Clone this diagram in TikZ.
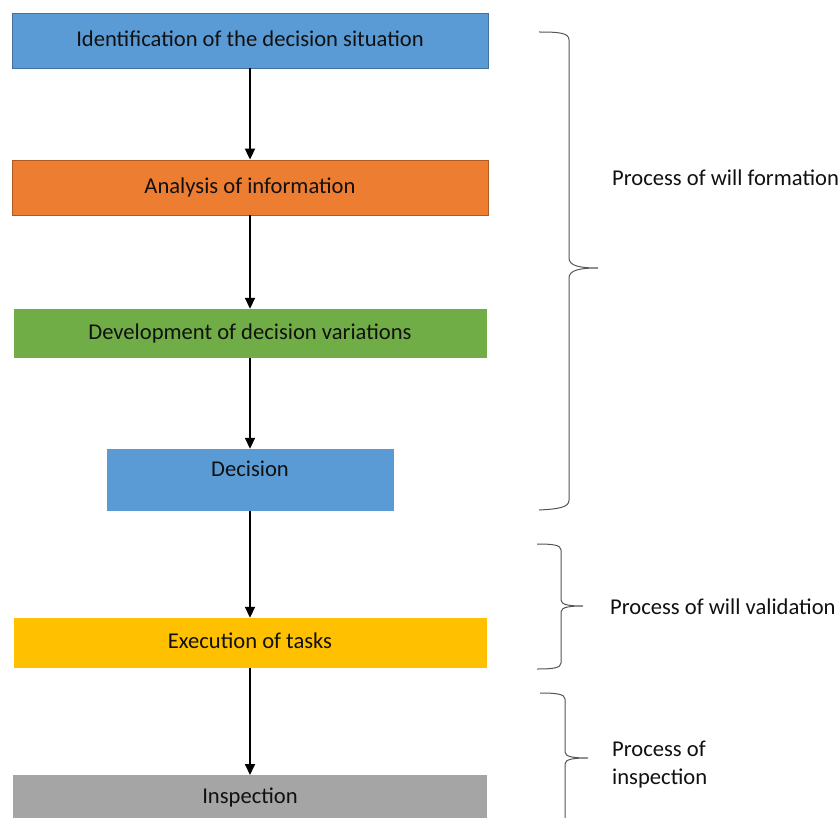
\documentclass[tikz,border=0pt]{standalone}
\usepackage{fontspec}
\setmainfont{Carlito}
\usetikzlibrary{arrows.meta}
\definecolor{cblue}{HTML}{5B9BD5}
\definecolor{cblueb}{HTML}{41719C}
\definecolor{corange}{HTML}{ED7D31}
\definecolor{corangeb}{HTML}{AE5A21}
\definecolor{cgreen}{HTML}{70AD47}
\definecolor{cyellow}{HTML}{FFC000}
\definecolor{cgray}{HTML}{A5A5A5}
\definecolor{ctext}{HTML}{111111}
\definecolor{cbrace}{HTML}{555555}
\begin{document}
\begin{tikzpicture}[x=1pt,y=-1pt,
  box/.style={rectangle, inner sep=0pt, font=\fontsize{22.6}{26}\selectfont, text=ctext, draw=none},
  conn/.style={line width=1.8pt, -{Triangle[width=10pt,length=11pt]}},
  brace/.style={draw=cbrace, line width=1pt},
  lbl/.style={anchor=west, font=\fontsize{22.6}{28}\selectfont, text=ctext, align=left, inner sep=0pt}
]
\useasboundingbox (0,0) rectangle (840,818);
\fill[white] (0,0) rectangle (840,818);

\node[box, fill=cblue, draw=cblueb, line width=0.8pt, minimum width=476pt, minimum height=55pt] (b1) at (250,40.5) {\raisebox{3pt}{Identification of the decision situation}};
\node[box, fill=corange, draw=corangeb, line width=0.8pt, minimum width=476pt, minimum height=55pt] (b2) at (250,187.5) {\raisebox{3pt}{Analysis of information}};
\node[box, fill=cgreen, minimum width=473pt, minimum height=49pt] (b3) at (250,333.5) {\raisebox{3pt}{Development of decision variations}};
\node[box, fill=cblue, minimum width=287pt, minimum height=62pt,
  label={[box, yshift=11pt]center:Decision}] (b4) at (250,480) {};
\node[box, fill=cyellow, minimum width=473pt, minimum height=50pt] (b5) at (250,643) {\raisebox{4pt}{Execution of tasks}};
\node[box, fill=cgray, minimum width=474pt, minimum height=50pt, anchor=north] (b6) at (250,775) {};
\node[box] (t6) at (250,797.5) {Inspection};

\draw[conn] (b1.south) -- (b2.north);
\draw[conn] (b2.south) -- (b3.north);
\draw[conn] (b3.south) -- (b4.north);
\draw[conn] (b4.south) -- (b5.north);
\draw[conn] (b5.south) -- (b6.north);

% brace 1
\coordinate (t1) at (598,268);
\draw[brace] (539,32) .. controls (560,32) and (569,33) .. (569,40)
  -- (569,258) .. controls (569,266) and (580,268) .. (t1)
  .. controls (580,268) and (569,270) .. (569,278)
  -- (569,500) .. controls (569,507) and (560,509) .. (539,510);
% brace 2
\coordinate (t2) at (583,606);
\draw[brace] (537,544) .. controls (553,544) and (561,545) .. (561,550)
  -- (561,600) .. controls (561,605) and (570,606) .. (t2)
  .. controls (570,606) and (561,607) .. (561,612)
  -- (561,663) .. controls (561,668) and (553,669) .. (537,669);
% brace 3
\coordinate (t3) at (588,758);
\draw[brace] (540,693) .. controls (556,693) and (565,694) .. (565,699)
  -- (565,752) .. controls (565,757) and (574,758) .. (t3)
  .. controls (574,758) and (565,759) .. (565,764)
  -- (565,830);

\node[lbl] (l1) at (612,178) {Process of will formation};
\node[lbl] (l2) at (610,607) {Process of will validation};
\node[lbl] (l3) at (612,764.5) {Process of\\inspection};
\end{tikzpicture}
\end{document}
